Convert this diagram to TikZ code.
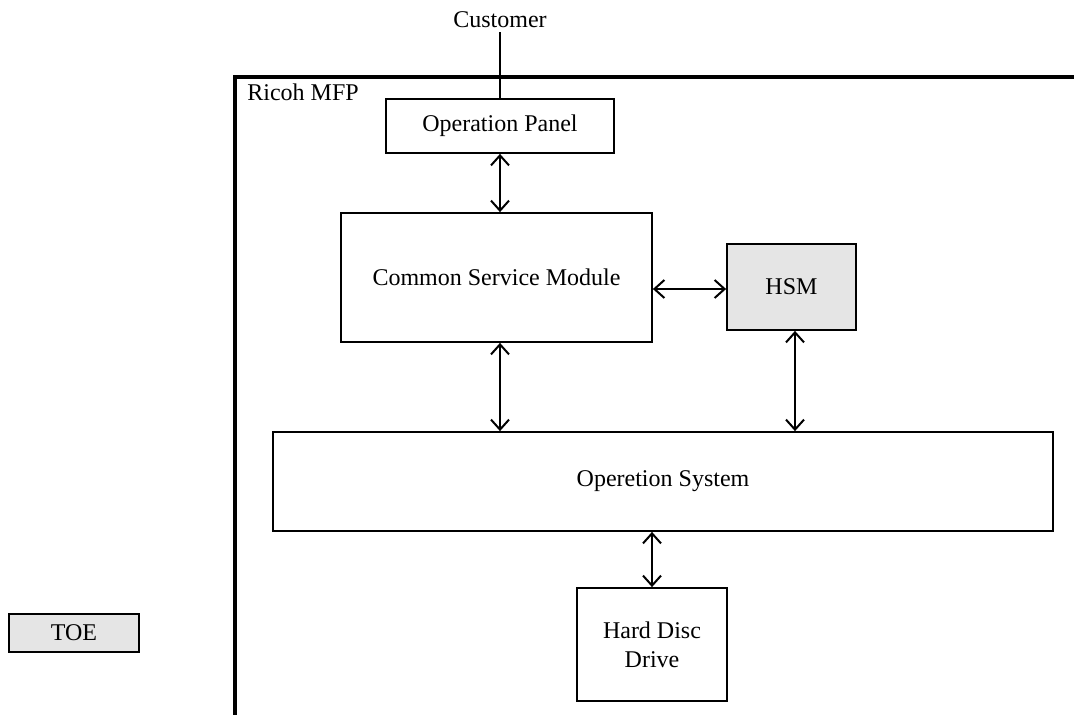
\documentclass[tikz,border=0pt]{standalone}
\usepackage{fontspec}
\setmainfont{Liberation Serif}
\usetikzlibrary{arrows.meta,positioning}

\begin{document}
\begin{tikzpicture}[x=1pt,y=-1pt,<->,>={Straight Barb[length=10pt,width=18pt]},line width=2pt,font=\fontsize{24}{29}\selectfont]
\tikzstyle{block}=[draw,rectangle,inner sep=0pt,align=center,line width=1.8pt]
\tikzstyle{grey block}=[block,fill=black!10]

\useasboundingbox (0,0) rectangle (1074,715);
\clip (0,0) rectangle (1074,715);

% Ricoh MFP frame
\draw[-,line width=3.5pt] (235,725) -- (235,77) -- (1085,77);
\node[anchor=west] (mfp) at (243,92) {Ricoh MFP};

\node (customer) at (500,20) {Customer};
\node[block,minimum width=228pt,minimum height=54pt] (panel) at (500,126) {Operation Panel};
\node[block,minimum width=311pt,minimum height=129pt] (csm) at (496.5,277.5) {Common Service Module};
\node[grey block,minimum width=129pt,minimum height=86pt] (hsm) at (791.5,287) {HSM};
\node[block,minimum width=780pt,minimum height=99pt] (os) at (663,481.5) {Operetion System};
\node[block,minimum width=150pt,minimum height=113pt] (hdd) at (652,644.5) {Hard Disc\\Drive};

\node[grey block,minimum width=130pt,minimum height=38pt] (toe) at (74,633) {TOE};

\draw[-] (customer.south) -- (panel.north);

\path
	(panel.south) edge (panel.south |- csm.north)
	([yshift=-2pt]csm.east |- hsm.west) edge ([yshift=-2pt]hsm.west)
	(csm.south -| panel.south) edge (os.north -| panel.south)
	([xshift=3.5pt]hsm.south) edge ([xshift=3.5pt]hsm.south |- os.north)
	(hdd.north |- os.south) edge (hdd.north);
\end{tikzpicture}
\end{document}
